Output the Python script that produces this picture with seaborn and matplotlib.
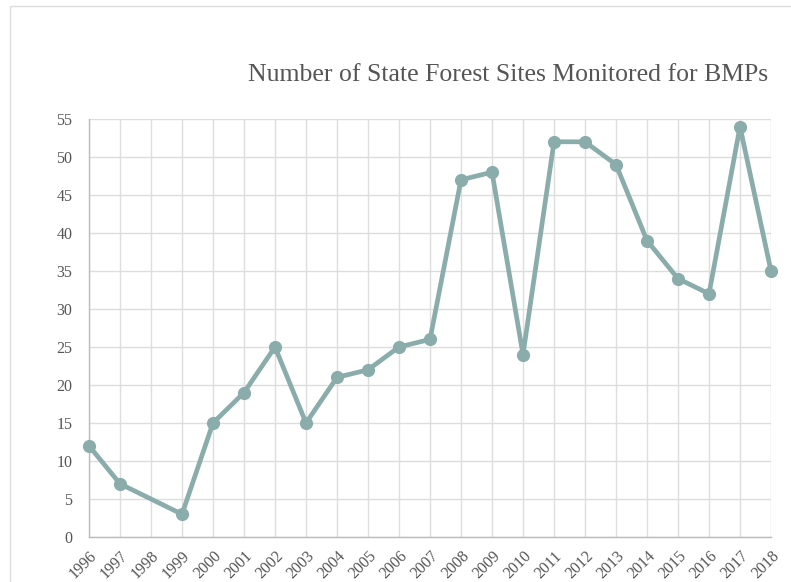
import numpy as np
import pandas as pd
import seaborn as sns
import matplotlib.pyplot as plt
from matplotlib.patches import Rectangle

# 数据
years = list(range(1996, 2019))
sites = [12, 7, np.nan, 3, 15, 19, 25, 15, 21, 22, 25, 26, 47, 48, 24, 52, 52, 49, 39, 34, 32, 54, 35]
y_ticks = list(range(0, 60, 5))

df = pd.DataFrame({'Year': years, 'Sites': sites})

sns.set_style('white')
plt.rcParams['font.family'] = ['Liberation Serif', 'DejaVu Serif']

fig = plt.figure(figsize=(7.91, 5.82), dpi=100)
ax = fig.add_axes([89 / 791, 1 - 537 / 582, (771 - 89) / 791, (537 - 119) / 582])

line_color = '#8aadab'
sns.lineplot(data=df, x='Year', y='Sites', ax=ax, color=line_color, linewidth=3.4,
             marker='o', markersize=9.5, markeredgewidth=0, markerfacecolor=line_color,
             clip_on=False, zorder=5)

ax.set_xlim(1996, 2018)
ax.set_ylim(0, 55)
ax.set_xticks(years)
ax.set_xticklabels([str(y) for y in years], rotation=45, ha='right',
                   rotation_mode='anchor', fontsize=11.5, color='#555555')
ax.set_yticks(y_ticks)
ax.set_yticklabels([str(v) for v in y_ticks], fontsize=11.5, color='#555555')
ax.tick_params(axis='both', length=4, width=1, color='#bbbbbb', pad=4)
ax.tick_params(axis='y', pad=8)

ax.grid(True, color='#dddddd', linewidth=1)
ax.set_axisbelow(True)
for side in ['top', 'right']:
    ax.spines[side].set_visible(False)
for side in ['left', 'bottom']:
    ax.spines[side].set_color('#bbbbbb')
    ax.spines[side].set_linewidth(1)

ax.set_xlabel('')
ax.set_ylabel('')

fig.text(768 / 791, 1 - 75 / 582, 'Number of State Forest Sites Monitored for BMPs',
         ha='right', va='center', fontsize=18.5, color='#555555')

# 外框
fig.patches.append(Rectangle((10 / 791, -0.1), 1.2, 1 - 6 / 582 + 0.1, transform=fig.transFigure,
                             fill=False, edgecolor='#dddddd', linewidth=1))

fig.savefig('out.png', dpi=100)
